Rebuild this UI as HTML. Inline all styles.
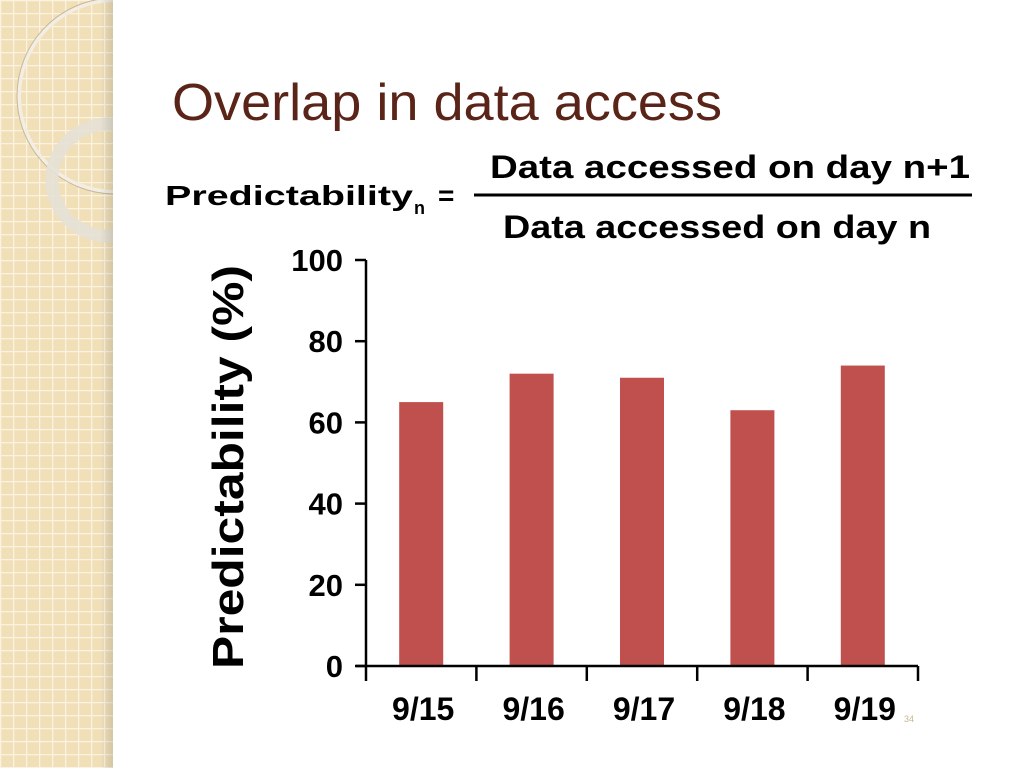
<!DOCTYPE html>
<html><head><meta charset="utf-8"><style>
html,body{margin:0;padding:0;background:#fff;}
svg{display:block;font-family:"Liberation Sans",sans-serif;}
</style></head><body>
<svg id="c" width="1024" height="768" viewBox="0 0 1024 768">
<defs>
<pattern id="grid" width="13" height="13" patternUnits="userSpaceOnUse">
<rect width="13" height="13" fill="#f1dfb8"/>
<path d="M0 0.5H13M0.5 0V13" stroke="#fbf3e2" stroke-width="1.5"/>
</pattern>
<linearGradient id="sh" x1="0" x2="1"><stop offset="0" stop-color="#000" stop-opacity="0"/><stop offset="1" stop-color="#000" stop-opacity="0.12"/></linearGradient>
<clipPath id="strip"><rect x="0" y="0" width="113" height="768"/></clipPath>
</defs>
<g>
<rect x="0" y="0" width="113" height="768" fill="url(#grid)"/>
<g clip-path="url(#strip)">
<circle cx="115" cy="96" r="96" fill="none" stroke="#f3eee4" stroke-width="4"/>
<circle cx="115" cy="96" r="98" fill="none" stroke="#c9b896" stroke-width="1"/>
<circle cx="108" cy="180" r="56" fill="none" stroke="#e6e1d6" stroke-width="13" opacity="0.9"/>
</g>
<rect x="100" y="0" width="13" height="768" fill="url(#sh)"/>
</g>
<text x="172" y="120" font-size="52" fill="#5a2418" textLength="550" lengthAdjust="spacingAndGlyphs">Overlap in data access</text>
<g font-weight="bold" fill="#000">
<text x="165" y="205" font-size="28" textLength="248" lengthAdjust="spacingAndGlyphs">Predictability</text>
<text x="414" y="214" font-size="18">n</text>
<text x="438" y="205" font-size="28">=</text>
<text x="490" y="178" font-size="32" textLength="480" lengthAdjust="spacingAndGlyphs">Data accessed on day n+1</text>
<line x1="474" y1="195" x2="972" y2="195" stroke="#000" stroke-width="3"/>
<text x="503" y="238" font-size="32" textLength="428" lengthAdjust="spacingAndGlyphs">Data accessed on day n</text>
</g>
<g id="chart"></g>
<text x="904" y="722" font-size="9" fill="#c8b890">34</text>
</svg>
<script>
const categories=["9/15","9/16","9/17","9/18","9/19"];
const values=[65,72,71,63,74];
const yTicks=[0,20,40,60,80,100];
const ns="http://www.w3.org/2000/svg";
const g=document.getElementById("chart");
const X0=366,X1=918,Y0=666,Y1=260;
const yScale=v=>Y0-(v/100)*(Y0-Y1);
const band=(X1-X0)/categories.length;
const xCenter=i=>X0+band*(i+0.5);
function mk(t,a){const e=document.createElementNS(ns,t);for(const k in a)e.setAttribute(k,a[k]);g.appendChild(e);return e;}
values.forEach((v,i)=>{
const r=mk("rect",{x:xCenter(i)-22,y:yScale(v),width:44,height:Y0-yScale(v),fill:"#c0504d"});


});
const ya=mk("line",{x1:X0,y1:Y1,x2:X0,y2:Y0,stroke:"#000","stroke-width":2.5});


const xa=mk("line",{x1:X0-10,y1:Y0,x2:X1,y2:Y0,stroke:"#000","stroke-width":2.5});


yTicks.forEach(t=>{
mk("line",{x1:X0-11,y1:yScale(t),x2:X0,y2:yScale(t),stroke:"#000","stroke-width":2.5});
const l=mk("text",{x:X0-23,y:yScale(t)+11,"font-size":31,"font-weight":"bold","text-anchor":"end"});
l.textContent=t;


});
for(let i=0;i<=categories.length;i++){
mk("line",{x1:X0+band*i,y1:Y0,x2:X0+band*i,y2:Y0+15,stroke:"#000","stroke-width":2.5});
}
categories.forEach((c,i)=>{
const l=mk("text",{x:xCenter(i)+2,y:720,"font-size":32,"font-weight":"bold","text-anchor":"middle"});
l.textContent=c;


});
const yt=mk("text",{x:0,y:0,"font-size":44,"font-weight":"bold","text-anchor":"middle",transform:"translate(243,467) rotate(-90)",textLength:404,lengthAdjust:"spacingAndGlyphs"});
yt.textContent="Predictability (%)";


</script>
</body></html>
